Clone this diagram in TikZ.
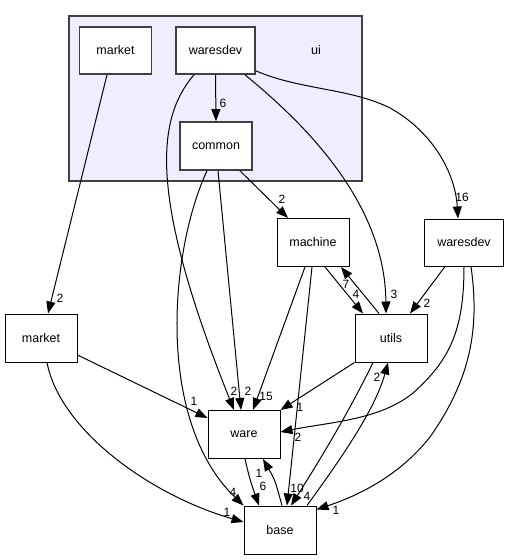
\documentclass[tikz,border=0pt]{standalone}
\usepackage{fontspec}
\setmainfont{Liberation Sans}
\usetikzlibrary{arrows.meta}
\definecolor{clusterfill}{HTML}{EEEEFF}
\definecolor{innerline}{HTML}{404040}
\tikzset{
  dirbox/.style={draw=black, line width=1pt, fill=white, minimum width=72pt, minimum height=48pt, inner sep=0pt, font=\fontsize{12.5}{14}\selectfont},
  innerbox/.style={dirbox, draw=innerline, line width=1.6pt},
  widebox/.style={minimum width=79pt, minimum height=47pt},
  dep/.style={draw=black, line width=1pt, -{Triangle[length=12pt,width=9pt]}},
  lbl/.style={inner sep=0pt, font=\fontsize{12}{14}\selectfont},
}
\begin{document}
\begin{tikzpicture}[x=1pt,y=-1pt]
\useasboundingbox (0,0) rectangle (509,560);
% cluster
\node[draw=innerline, line width=1.3pt, fill=clusterfill, minimum width=293pt, minimum height=165pt, inner sep=0pt] (ui) at (215.5,98.5) {};
\node[lbl, font=\fontsize{12.5}{14}\selectfont] (uilabel) at (316,50) {ui};
% nodes
\node[innerbox, minimum width=72pt, minimum height=47pt] (uimarket) at (115.5,50.5) {market};
\node[innerbox, widebox] (uiwd) at (215.5,50.5) {waresdev};
\node[innerbox] (common) at (216,146) {common};
\node[dirbox] (machine) at (313,242.5) {machine};
\node[dirbox, widebox] (wdr) at (464,242.5) {waresdev};
\node[dirbox] (utils) at (391,338) {utils};
\node[dirbox] (market) at (41,338) {market};
\node[dirbox] (ware) at (244,434.5) {ware};
\node[dirbox] (base) at (280,530) {base};
% edges
\draw[dep] ([xshift=-8.5pt]uimarket.south) -- ([xshift=7pt]market.north);
\draw[dep] (uiwd.south) -- (common.north);
\draw[dep] ([xshift=-21.5pt]uiwd.south) .. controls (155,120) and (150,200) .. ([xshift=-10pt]ware.north);
\draw[dep] ([xshift=29.5pt]uiwd.south) .. controls (300,120) and (385,200) .. ([xshift=-5pt]utils.north);
\draw[dep] ([yshift=4pt]uiwd.south east) .. controls (300,90) and (350,88) .. (390,108) .. controls (430,130) and (455,170) .. ([xshift=-6pt]wdr.north);
\draw[dep] ([xshift=24pt]common.south) -- ([xshift=-25pt]machine.north);
\draw[dep] ([xshift=2pt]common.south) -- ([xshift=-3pt]ware.north);
\draw[dep] ([xshift=-9pt]common.south) .. controls (170,250) and (155,420) .. (base.north west);
\draw[dep] ([xshift=12pt]machine.south) -- ([xshift=-28pt]utils.north);
\draw[dep] ([xshift=-12pt]utils.north) -- ([xshift=28pt]machine.south);
\draw[dep] ([xshift=-8pt]machine.south) -- ([xshift=9pt]ware.north);
\draw[dep] ([xshift=-1pt]machine.south) -- ([xshift=7pt]base.north);
\draw[dep] ([xshift=-19pt]wdr.south) -- ([xshift=19pt]utils.north);
\draw[dep] (wdr.south) .. controls (464,330) and (450,360) .. (413,393) .. controls (380,420) and (330,422) .. ([yshift=2.5pt]ware.east);
\draw[dep] ([xshift=7pt]wdr.south) .. controls (480,330) and (470,380) .. (430,437) .. controls (400,475) and (360,495) .. ([yshift=-4pt]base.north east);
\draw[dep] (utils.south west) -- (ware.north east);
\draw[dep] ([xshift=-18pt]utils.south) .. controls (350,410) and (320,460) .. ([xshift=11pt]base.north);
\draw[dep] ([xshift=27pt]base.north) .. controls (340,460) and (375,410) .. ([xshift=-3pt]utils.south);
\draw[dep] ([xshift=1pt]ware.south) .. controls (250,480) .. ([xshift=-21pt]base.north);
\draw[dep] ([xshift=2pt]base.north) .. controls (275,480) .. ([xshift=19pt]ware.south);
\draw[dep] ([yshift=-17pt]market.east) -- ([yshift=16.5pt]ware.west);
\draw[dep] ([xshift=6pt]market.south) .. controls (60,430) and (150,495) .. ([yshift=8pt]base.west);
% labels
\node[lbl] (l1) at (60,298) {2};
\node[lbl] (l2) at (223,103) {6};
\node[lbl] (l3) at (282,199) {2};
\node[lbl] (l4) at (462,197) {16};
\node[lbl] (l5) at (346,284) {7};
\node[lbl] (l6) at (356,294) {4};
\node[lbl] (l7) at (394,294) {3};
\node[lbl] (l8) at (427,303) {2};
\node[lbl] (l9) at (377,377) {2};
\node[lbl] (l10) at (300,407) {1};
\node[lbl] (l11) at (298,437) {2};
\node[lbl] (l12) at (297,488) {10};
\node[lbl] (l13) at (307,496) {4};
\node[lbl] (l14) at (336,510) {1};
\node[lbl] (l15) at (234,391) {2};
\node[lbl] (l16) at (248,391) {2};
\node[lbl] (l17) at (266,396) {15};
\node[lbl] (l18) at (194,401) {1};
\node[lbl] (l19) at (233,492) {4};
\node[lbl] (l20) at (227,512) {1};
\node[lbl] (l21) at (259,473) {1};
\node[lbl] (l22) at (263,486) {6};
\end{tikzpicture}
\end{document}
